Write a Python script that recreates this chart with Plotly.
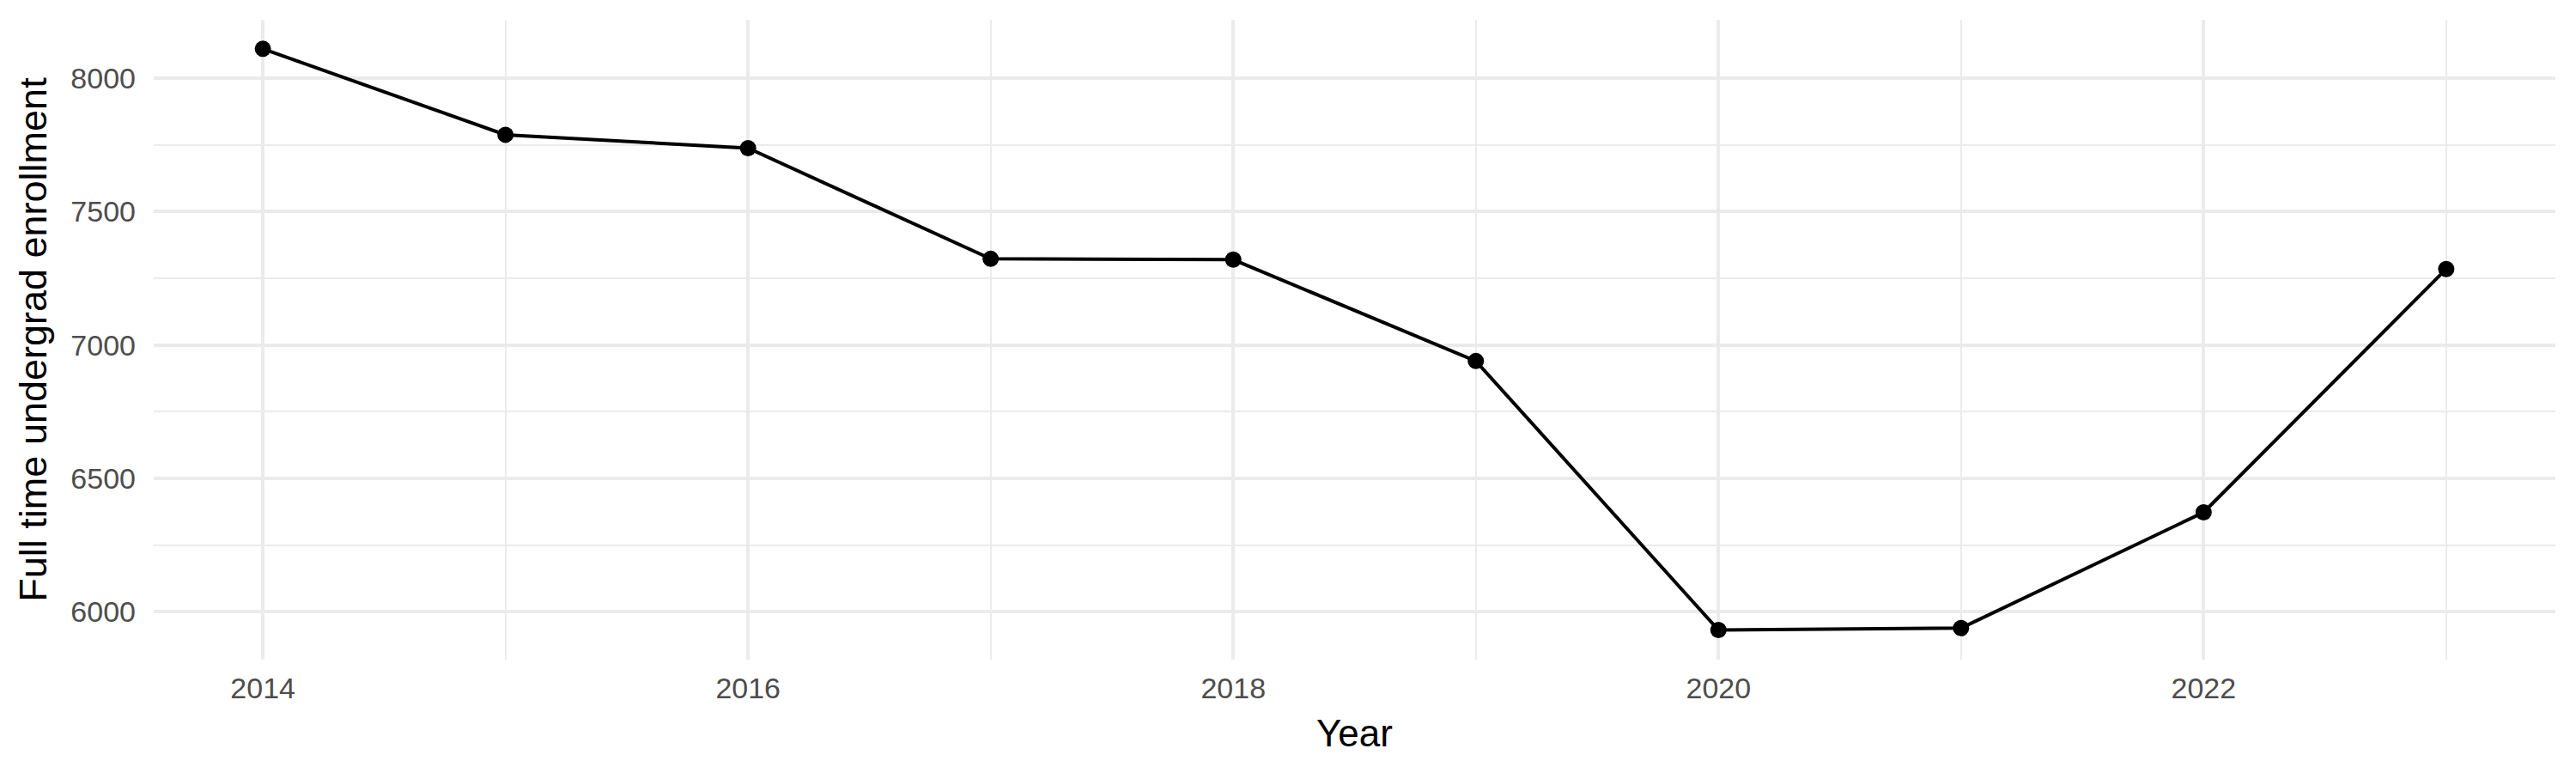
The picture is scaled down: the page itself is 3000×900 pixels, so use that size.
import plotly.graph_objects as go

years = [2014, 2015, 2016, 2017, 2018, 2019, 2020, 2021, 2022, 2023]
enrollment = [8110, 7788, 7738, 7323, 7320, 6940, 5932, 5939, 6373, 7285]

x_ticks = [2014, 2016, 2018, 2020, 2022]
y_ticks = [6000, 6500, 7000, 7500, 8000]

fig = go.Figure()
fig.add_trace(go.Scatter(
    x=years, y=enrollment,
    mode="lines+markers",
    line=dict(color="black", width=4),
    marker=dict(color="black", size=19),
    showlegend=False,
))

grid = "#EBEBEB"
# page body has an 8px margin, so the margins are shifted to compensate
fig.update_layout(
    width=3000, height=900,
    margin=dict(l=171, r=32, t=15, b=140),
    paper_bgcolor="white", plot_bgcolor="white",
    font=dict(family="Liberation Sans, Arial, sans-serif", color="black"),
)
fig.update_xaxes(
    range=[2013.55, 2023.45],
    tickvals=x_ticks, ticktext=[str(v) for v in x_ticks],
    tickfont=dict(size=34, color="#4D4D4D"),
    showgrid=True, gridcolor=grid, gridwidth=4,
    minor=dict(tickvals=[2015, 2017, 2019, 2021, 2023], showgrid=True, gridcolor=grid, gridwidth=2),
    zeroline=False, showline=False, ticks="", ticklabelstandoff=10,
    automargin=False,
    title=dict(text="Year", font=dict(size=44), standoff=19),
)
fig.update_yaxes(
    range=[5821, 8219],
    tickvals=y_ticks, ticktext=[str(v) for v in y_ticks],
    tickfont=dict(size=34, color="#4D4D4D"),
    showgrid=True, gridcolor=grid, gridwidth=4,
    minor=dict(tickvals=[6250, 6750, 7250, 7750], showgrid=True, gridcolor=grid, gridwidth=2),
    zeroline=False, showline=False, ticks="", ticklabelstandoff=20,
    automargin=False,
    title=dict(text="Full time undergrad enrollment", font=dict(size=45), standoff=13),
)

fig.write_html("out.html")
